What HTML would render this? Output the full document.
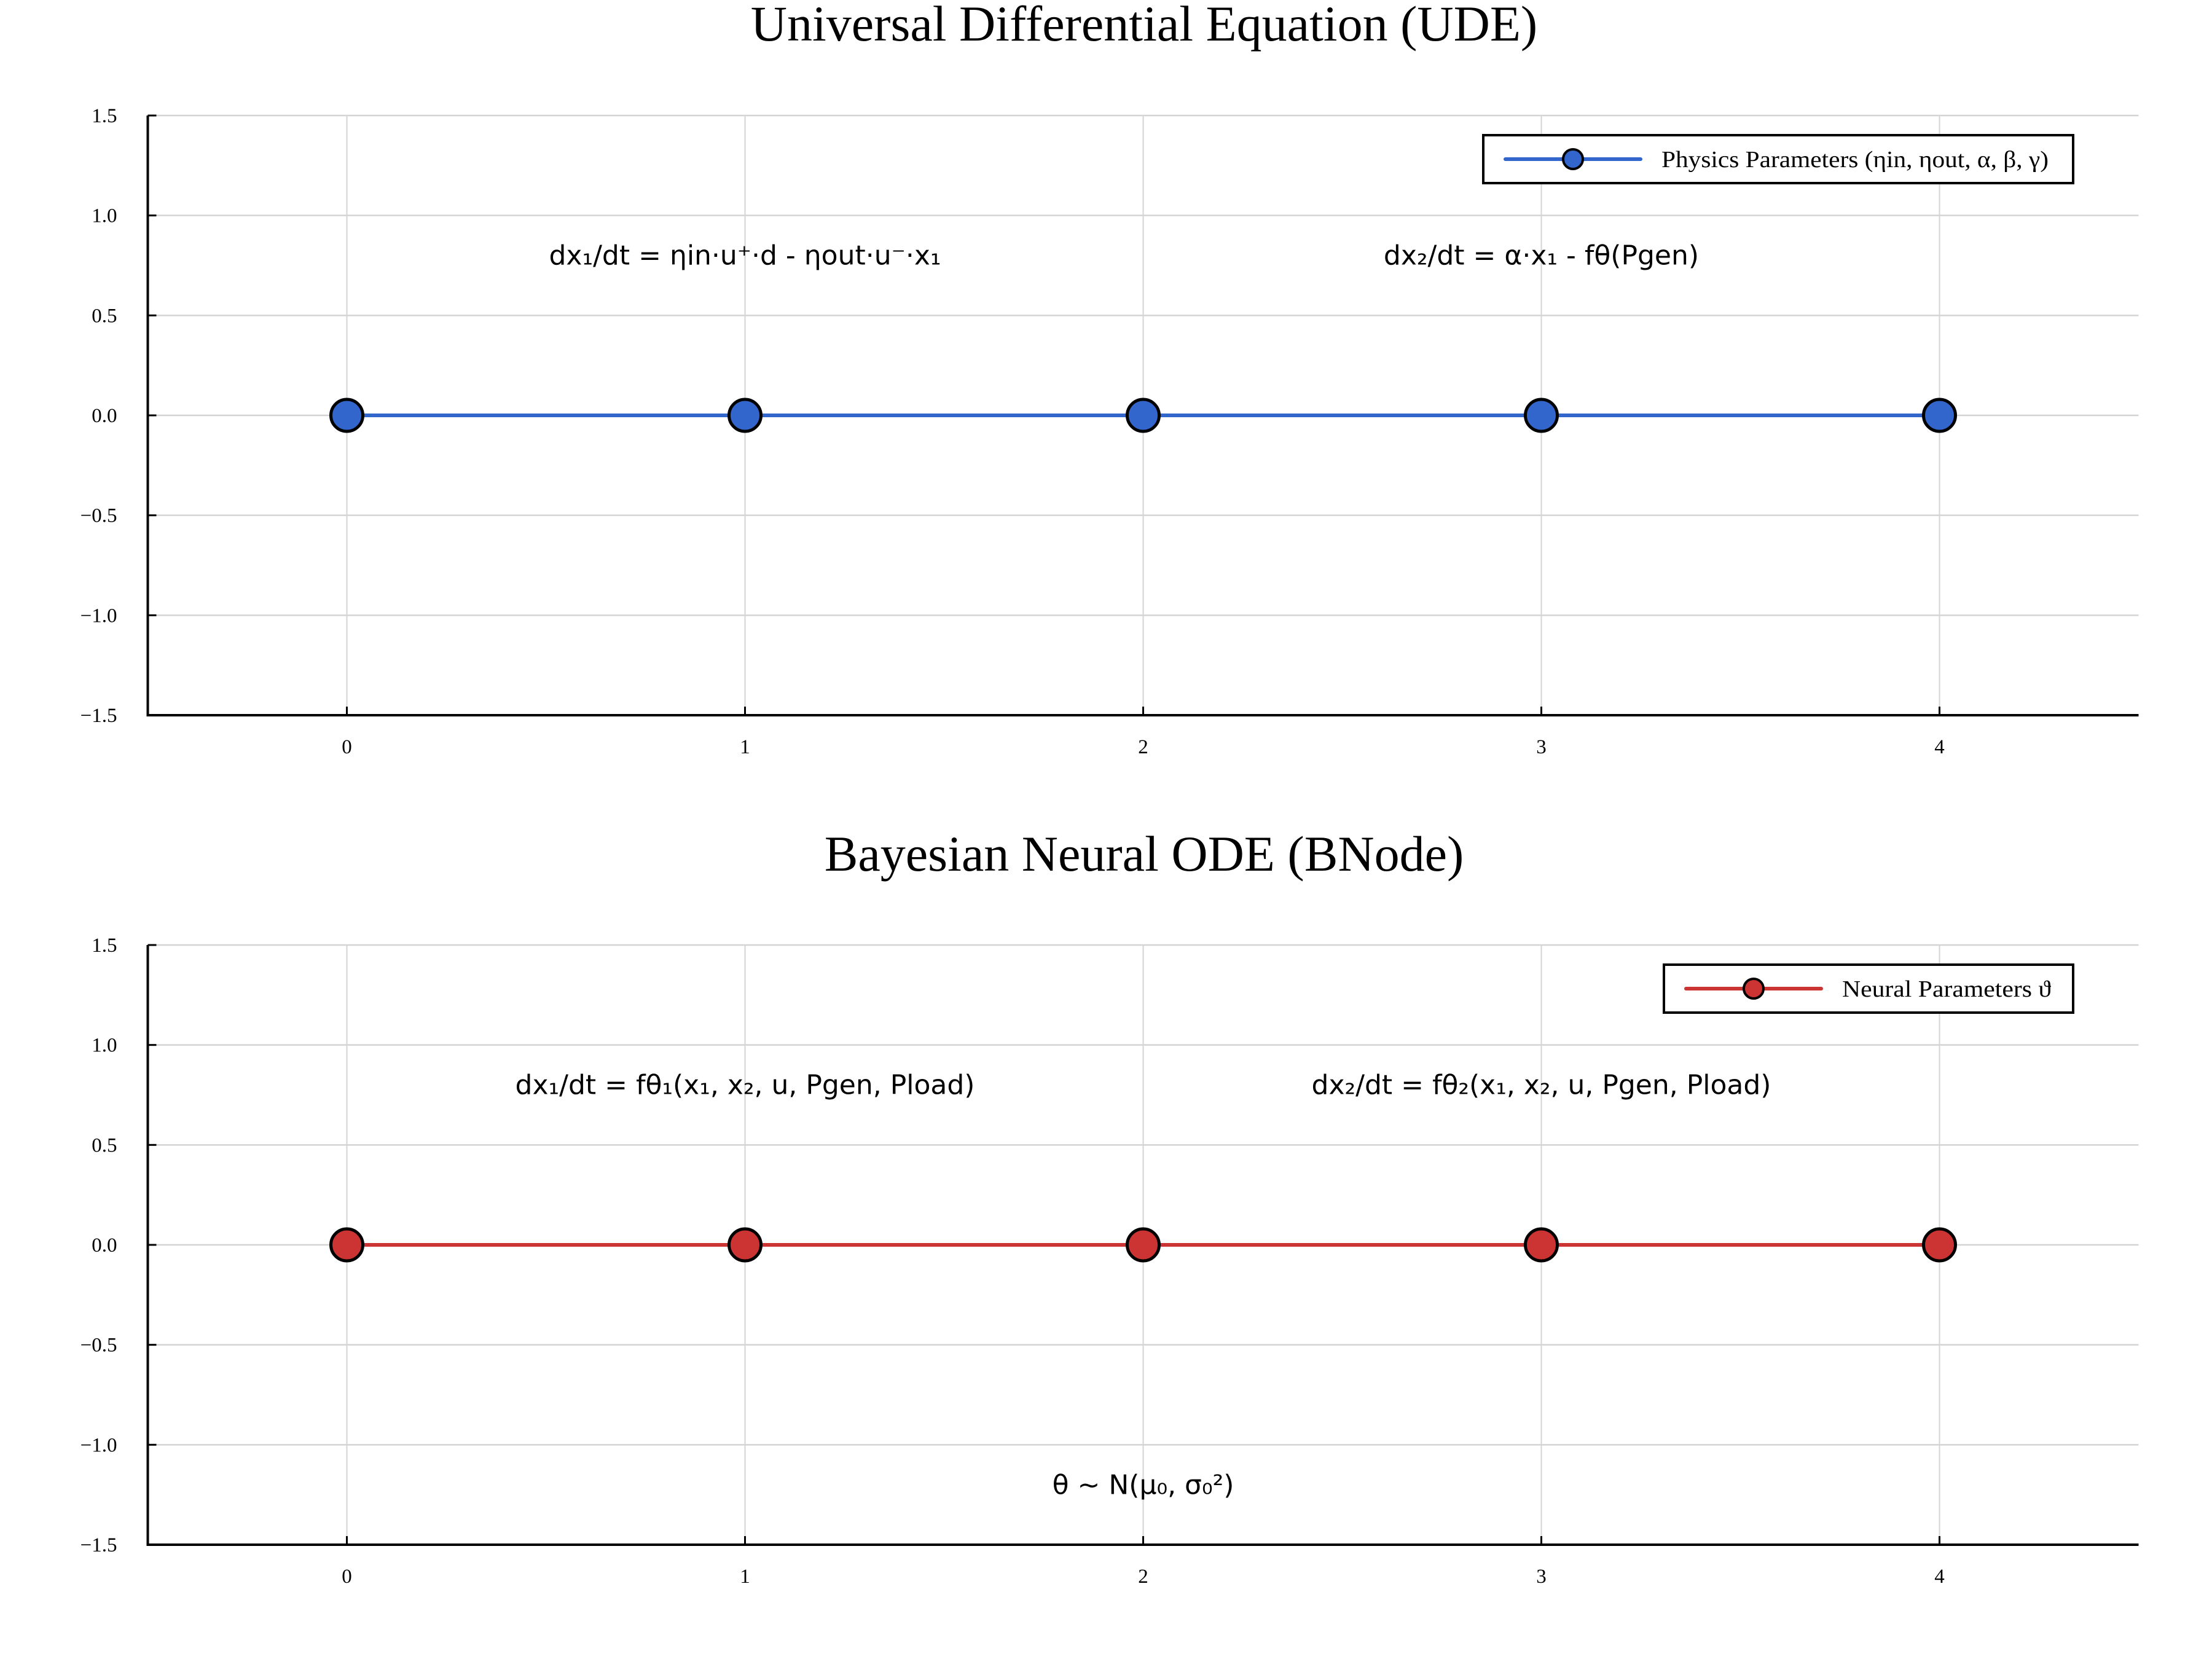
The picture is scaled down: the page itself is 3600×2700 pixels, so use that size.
<!DOCTYPE html>
<html><head><meta charset="utf-8"><style>
html,body{margin:0;padding:0;background:#fff;}
svg{display:block;}
.serif{font-family:"Liberation Serif",serif;}
.sans{font-family:"DejaVu Sans","Liberation Sans",sans-serif;}
</style></head>
<body>
<svg id="chart" width="3600" height="2700" viewBox="0 0 3600 2700" xmlns="http://www.w3.org/2000/svg"></svg>
<script>
const xCategories = [0, 1, 2, 3, 4];
const udeValues = [0, 0, 0, 0, 0];
const bnodeValues = [0, 0, 0, 0, 0];
const yTicks = [-1.5, -1.0, -0.5, 0.0, 0.5, 1.0, 1.5];
const yTickLabels = ["\u22121.5", "\u22121.0", "\u22120.5", "0.0", "0.5", "1.0", "1.5"];
const xTicks = [0, 1, 2, 3, 4];
const xTickLabels = ["0", "1", "2", "3", "4"];
const udeAnnX = [1, 3];
const udeAnnY = [0.8, 0.8];
const udeAnnText = ["dx\u2081/dt = \u03b7in\u00b7u\u207a\u00b7d - \u03b7out\u00b7u\u207b\u00b7x\u2081", "dx\u2082/dt = \u03b1\u00b7x\u2081 - f\u03b8(Pgen)"];
const bnodeAnnX = [1, 3, 2];
const bnodeAnnY = [0.8, 0.8, -1.2];
const bnodeAnnText = ["dx\u2081/dt = f\u03b8\u2081(x\u2081, x\u2082, u, Pgen, Pload)", "dx\u2082/dt = f\u03b8\u2082(x\u2081, x\u2082, u, Pgen, Pload)", "\u03b8 ~ N(\u03bc\u2080, \u03c3\u2080\u00b2)"];

const svg = document.getElementById('chart');
const NS = 'http://www.w3.org/2000/svg';
function mk(tag, attrs, parent, text){
  const e = document.createElementNS(NS, tag);
  for (const k in attrs) e.setAttribute(k, attrs[k]);
  if (text !== undefined) e.textContent = text;
  parent.appendChild(e);
  return e;
}
const L = 240.5, R = 3480.5;
const xMin = -0.5, xMax = 4.5, yMin = -1.5, yMax = 1.5;

function panel(cfg){
  const g = mk('g', {}, svg);
  
  
  const T = cfg.top, B = cfg.bottom;
  const sx = v => L + (v - xMin) / (xMax - xMin) * (R - L);
  const sy = v => B - (v - yMin) / (yMax - yMin) * (B - T);
  const t = mk('text', {x: 1862, y: cfg.titleY, 'text-anchor': 'middle', 'font-size': 82, class: 'serif', fill: '#000'}, g, cfg.title);
  
  
  yTicks.forEach((v, i) => {
    const ln = mk('line', {x1: L, x2: R, y1: sy(v), y2: sy(v), stroke: '#d4d4d4', 'stroke-width': 2.5}, g);
    
    
    mk('line', {x1: L, x2: L + 14, y1: sy(v), y2: sy(v), stroke: '#000', 'stroke-width': 3}, g);
    const lb = mk('text', {x: L - 50, y: sy(v) + 11, 'text-anchor': 'end', 'font-size': 33, class: 'serif'}, g, yTickLabels[i]);
    
    
  });
  xTicks.forEach((v, i) => {
    const ln = mk('line', {x1: sx(v), x2: sx(v), y1: T, y2: B, stroke: '#d4d4d4', 'stroke-width': 2}, g);
    
    
    mk('line', {x1: sx(v), x2: sx(v), y1: B, y2: B - 14, stroke: '#000', 'stroke-width': 3}, g);
    const lb = mk('text', {x: sx(v), y: B + 62, 'text-anchor': 'middle', 'font-size': 33, class: 'serif'}, g, xTickLabels[i]);
    
    
  });
  const ax = mk('path', {d: `M${L},${T} V${B} H${R}`, fill: 'none', stroke: '#000', 'stroke-width': 4}, g);
  
  
  const pts = xCategories.map((x, i) => `${sx(x)},${sy(cfg.values[i])}`).join(' ');
  const pl = mk('polyline', {points: pts, fill: 'none', stroke: cfg.color, 'stroke-width': 6}, g);
  
  
  xCategories.forEach((x, i) => {
    const c = mk('circle', {cx: sx(x), cy: sy(cfg.values[i]), r: 26, fill: cfg.color, stroke: '#000', 'stroke-width': 5}, g);
    
    
  });
  cfg.annText.forEach((s, i) => {
    const a = mk('text', {x: sx(cfg.annX[i]), y: sy(cfg.annY[i]) + 15, 'text-anchor': 'middle', 'font-size': 44, class: 'sans'}, g, s);
    
    
  });
  const lg = mk('g', {}, g);
  
  
  const lx = cfg.legX, ly = T + 32, lh = 78, lw = 3374 - lx;
  mk('rect', {x: lx, y: ly, width: lw, height: lh, fill: '#fff', stroke: '#000', 'stroke-width': 4}, lg);
  const my = ly + lh / 2;
  mk('line', {x1: lx + 36, x2: lx + 256, y1: my, y2: my, stroke: cfg.color, 'stroke-width': 6, 'stroke-linecap': 'round'}, lg);
  mk('circle', {cx: lx + 146, cy: my, r: 16, fill: cfg.color, stroke: '#000', 'stroke-width': 4}, lg);
  const lt = mk('text', {x: lx + 290, y: my + 13, 'font-size': 38, class: 'serif', textLength: cfg.legLen, lengthAdjust: 'spacingAndGlyphs'}, lg, cfg.legend);
  
  
}

panel({name: 'ude-panel', top: 188, bottom: 1164, titleY: 66, title: 'Universal Differential Equation (UDE)',
  values: udeValues, color: '#3366cc', annX: udeAnnX, annY: udeAnnY, annText: udeAnnText,
  legX: 2414, legLen: 630, legend: 'Physics Parameters (\u03b7in, \u03b7out, \u03b1, \u03b2, \u03b3)'});
panel({name: 'bnode-panel', top: 1538, bottom: 2514, titleY: 1417, title: 'Bayesian Neural ODE (BNode)',
  values: bnodeValues, color: '#cc3333', annX: bnodeAnnX, annY: bnodeAnnY, annText: bnodeAnnText,
  legX: 2708, legLen: 340, legend: 'Neural Parameters \u03d1'});
</script>
</body></html>
